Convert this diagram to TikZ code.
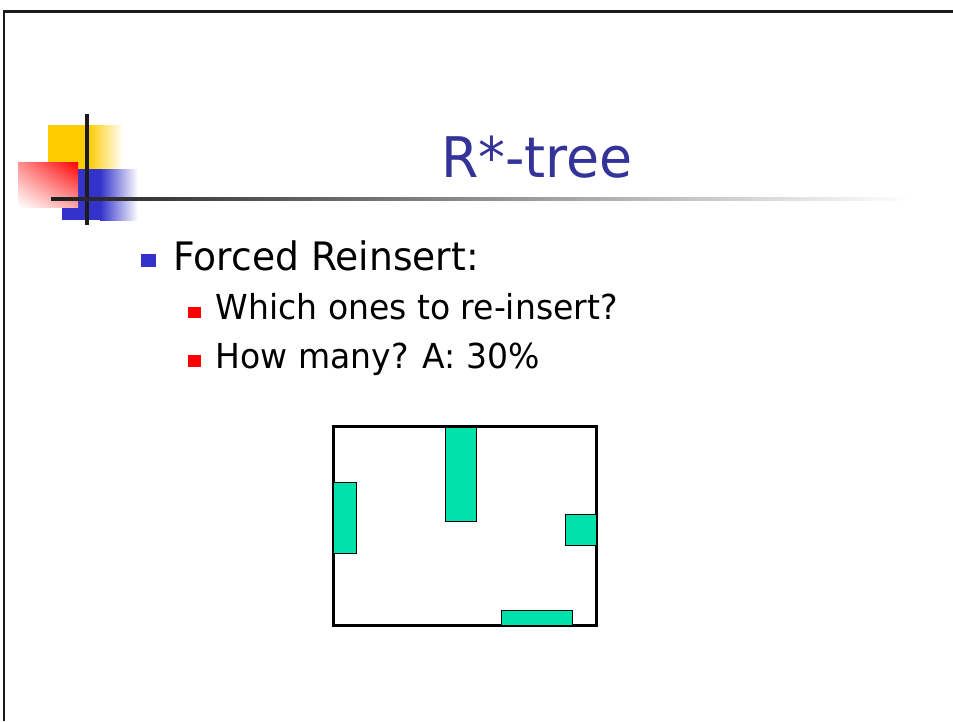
\documentclass[tikz,border=0pt]{standalone}
\usepackage{fontspec}
\usetikzlibrary{shadings}
\setmainfont{DejaVu Sans}[FakeStretch=0.96]
\definecolor{titleblue}{RGB}{51,51,153}
\definecolor{bulletblue}{RGB}{51,51,204}
\definecolor{decoyellow}{RGB}{255,204,0}
\definecolor{decoblue}{RGB}{51,51,204}
\definecolor{decored}{RGB}{255,0,0}
\definecolor{rectgreen}{RGB}{0,226,170}
\definecolor{linedark}{RGB}{28,28,28}
\begin{document}
\begin{tikzpicture}[x=1pt,y=-1pt,
  titletext/.style={anchor=base,inner sep=0pt,text=titleblue,font=\fontsize{56}{60}\selectfont},
  lvlone/.style={anchor=base west,inner sep=0pt,font=\fontsize{39.2}{42}\selectfont},
  lvltwo/.style={anchor=base west,inner sep=0pt,font=\fontsize{34.4}{40}\selectfont},
  entry/.style={draw=black,line width=1pt,fill=rectgreen}]
\useasboundingbox (0,0) rectangle (953,721);
\fill[white] (0,0) rectangle (953,721);
% slide frame
\draw[line width=2.6pt,linedark] (4,721) -- (4,11.3) -- (953,11.3);
% decoration
\fill[decoyellow] (48,125) rectangle (88,170);
\shade[left color=decoyellow,right color=white] (88,125) rectangle (123,170);
\fill[decoblue] (62,169) rectangle (100,220);
\shade[left color=decoblue,right color=white] (100,169) rectangle (138,220);
\shade[upper left=decored!45,upper right=decored,lower left=white,lower right=decored!35] (18,162) rectangle (78,207);
\fill[linedark] (85,114) rectangle (89,225);
\shade[left color=black!88,middle color=black!30,right color=white] (51,197) rectangle (910,200.6);
% title
\node[titletext] (title) at (537,177) {R*-tree};
% bullets
\fill[bulletblue] (141,254) rectangle (156,267);
\node[lvlone] (b1) at (173.3,270) {Forced Reinsert:};
\fill[decored] (188,307) rectangle (201,318);
\node[lvltwo] (b2) at (215.5,319) {Which ones to re-insert?};
\fill[decored] (188,355) rectangle (201,367);
\node[lvltwo] (b3) at (215.5,368) {How many? A: 30\%};
% node rectangle
\draw[line width=3.3pt,black] (333.4,426.7) rectangle (596.8,625.3);
\draw[entry] (333.5,482.5) rectangle (356.5,553.5);
\draw[entry] (445.5,427.5) rectangle (476.5,521.5);
\draw[entry] (565.5,514.5) rectangle (596.5,545.5);
\draw[entry] (501.5,610.5) rectangle (572.5,625.5);
\end{tikzpicture}
\end{document}
